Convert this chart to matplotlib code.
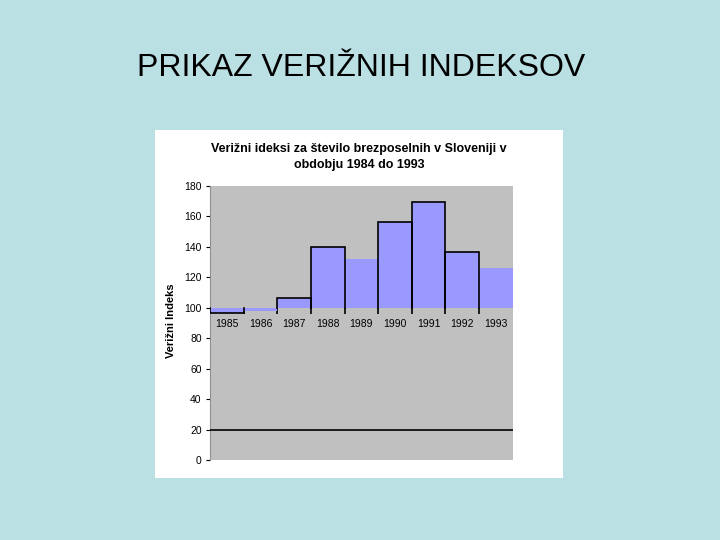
import matplotlib.pyplot as plt
from matplotlib.patches import Rectangle

# podatki: verižni indeksi brezposelnih v Sloveniji
years = ["1985", "1986", "1987", "1988", "1989", "1990", "1991", "1992", "1993"]
indeks = [96.4, 97.5, 106.5, 140, 132, 156, 169, 136.5, 126]
obroba = [True, False, True, True, False, True, True, True, False]

plt.rcParams['font.family'] = ['Liberation Sans', 'DejaVu Sans']

fig = plt.figure(figsize=(7.2, 5.4), dpi=100)
fig.patch.set_facecolor('#bbe0e3')

# naslov prosojnice
fig.text(361 / 720, 1 - 68 / 540, "PRIKAZ VERIŽNIH INDEKSOV",
         ha='center', va='center', fontsize=23)

# bela podlaga grafa
fig.patches.append(Rectangle((155 / 720, 1 - 478 / 540), 408 / 720, 348 / 540,
                             transform=fig.transFigure, facecolor='white',
                             edgecolor='none', zorder=-1))

ax = fig.add_axes([210 / 720, 1 - 460 / 540, 302.7 / 720, 274.3 / 540])
ax.set_zorder(1)
ax.set_facecolor('#c0c0c0')

x = list(range(len(years)))
ax.bar(x, [v - 100 for v in indeks], bottom=100, width=1.0, color='#9999ff',
       edgecolor='none', zorder=2)

# obroba stolpcev brez spodnje stranice (pri 100)
for i, v in enumerate(indeks):
    if obroba[i]:
        ax.plot([i - 0.5, i - 0.5, i + 0.5, i + 0.5], [100, v, v, 100],
                color='black', linewidth=1.2, zorder=3, solid_joinstyle='miter')

ax.axhline(20, color='black', linewidth=1.2, zorder=3)

ax.set_xlim(-0.5, len(years) - 0.5)
ax.set_ylim(0, 180)
ax.set_yticks(range(0, 181, 20))
ax.tick_params(axis='y', length=3, labelsize=7.5, pad=3, colors='black')

# x os seka pri 100
ax.spines['bottom'].set_position(('data', 100))
ax.spines['bottom'].set_color('none')
ax.spines['top'].set_visible(False)
ax.spines['right'].set_visible(False)
ax.spines['left'].set_color('#909090')
ax.set_xticks(x)
ax.set_xticklabels(years)
ax.set_xticks([i + 0.5 for i in x[:-1]], minor=True)
ax.tick_params(axis='x', which='major', length=0, labelsize=7.5, pad=8)
ax.tick_params(axis='x', which='minor', length=4, width=1.2, color='black')

ax.set_ylabel("Verižni Indeks", fontsize=8, fontweight='bold')
ax.yaxis.set_label_coords(-0.112, 0.507)

fig.text(359 / 720, 1 - 157 / 540,
         "Verižni ideksi za število brezposelnih v Sloveniji v\nobdobju 1984 do 1993",
         ha='center', va='center', fontsize=9, fontweight='bold', linespacing=1.55)

fig.savefig("out.png", dpi=100, facecolor=fig.get_facecolor())
